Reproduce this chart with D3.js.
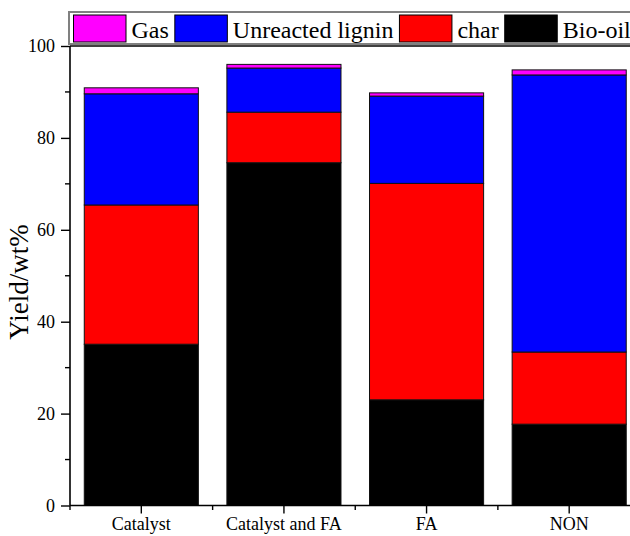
<!DOCTYPE html>
<html>
<head>
<meta charset="utf-8">
<script src="https://cdn.jsdelivr.net/npm/d3@7"></script>
<style>
  body { margin: 0; background: #fff; }
  svg { display: block; font-family: "Liberation Serif", "Times New Roman", serif; }
</style>
</head>
<body>
<div id="chart"></div>
<script>
var width = 630, height = 536;

// data (wt%)
var categories = ['Catalyst', 'Catalyst and FA', 'FA', 'NON'];
var bioOil    = [35.1, 74.6, 23.0, 17.7];
var charYield = [30.3, 11.0, 47.1, 15.7];
var unreacted = [24.2,  9.6, 19.0, 60.3];
var gas       = [ 1.3,  0.8,  0.7,  1.1];
var yTicks = [0, 20, 40, 60, 80, 100];
var yMinor = [10, 30, 50, 70, 90];

var keys = ['Bio-oil', 'char', 'Unreacted lignin', 'Gas'];
var colors = { 'Bio-oil': '#000000', 'char': '#ff0000', 'Unreacted lignin': '#0000ff', 'Gas': '#ff00ff' };
var legendOrder = ['Gas', 'Unreacted lignin', 'char', 'Bio-oil'];

var rows = categories.map(function (c, i) {
    return { cat: c, 'Bio-oil': bioOil[i], 'char': charYield[i], 'Unreacted lignin': unreacted[i], 'Gas': gas[i] };
});

var x0 = 70, xEnd = 640.5, yTop = 46, yBot = 505.5;

var svg = d3.select('#chart').append('svg')
    .attr('width', width)
    .attr('height', height);

var x = d3.scaleBand().domain(categories).range([x0, xEnd]).paddingInner(0.2).paddingOuter(0.1);
var y = d3.scaleLinear().domain([0, 100]).range([yBot, yTop]);

var series = d3.stack().keys(keys)(rows);

// bars
var gBars = svg.append('g');
series.forEach(function (s) {
    gBars.selectAll(null).data(s).enter().append('rect')
        .attr('x', function (d) { return x(d.data.cat); })
        .attr('y', function (d) { return y(d[1]); })
        .attr('width', x.bandwidth())
        .attr('height', function (d) { return y(d[0]) - y(d[1]); })
        .attr('fill', colors[s.key])
        .attr('stroke', '#111')
        .attr('stroke-width', 1);
});

// top frame line (runs off the right edge)
svg.append('line').attr('x1', x0).attr('x2', width).attr('y1', yTop).attr('y2', yTop)
    .attr('stroke', '#000').attr('stroke-width', 1.6);

// y axis
var yAxis = svg.append('g')
    .attr('transform', 'translate(' + x0 + ',0)')
    .call(d3.axisLeft(y).tickValues(yTicks).tickSize(9).tickPadding(6).tickFormat(d3.format('d')));
yAxis.select('.domain').attr('stroke-width', 1.6).attr('d', 'M0,' + yTop + 'V' + yBot);
yAxis.selectAll('.tick line').attr('stroke-width', 1.4);
yAxis.selectAll('.tick text').attr('font-size', 18).attr('font-family', '"Liberation Serif", serif').attr('fill', '#000');
yAxis.selectAll('.minor').data(yMinor).enter().append('line')
    .attr('x1', -5).attr('x2', 0)
    .attr('y1', function (d) { return y(d); }).attr('y2', function (d) { return y(d); })
    .attr('stroke', '#000').attr('stroke-width', 1.4);

// x axis
var xAxis = svg.append('g')
    .attr('transform', 'translate(0,' + yBot + ')')
    .call(d3.axisBottom(x).tickSize(8).tickPadding(4));
xAxis.select('.domain').attr('stroke-width', 1.6).attr('d', 'M' + x0 + ',0H' + width);
xAxis.selectAll('.tick line').attr('stroke-width', 1.4);
xAxis.selectAll('.tick text').attr('font-size', 18).attr('font-family', '"Liberation Serif", serif').attr('fill', '#000');
var bounds = categories.map(function (c) { return x(c) - x.step() * x.paddingInner() / 2; });
bounds[0] = x0;
xAxis.selectAll('.minor').data(bounds).enter().append('line')
    .attr('x1', function (d) { return d; }).attr('x2', function (d) { return d; })
    .attr('y1', 0).attr('y2', 4.5)
    .attr('stroke', '#000').attr('stroke-width', 1.4);

// y label
svg.append('text')
    .attr('transform', 'translate(28,282) rotate(-90)')
    .attr('text-anchor', 'middle')
    .attr('font-size', 27)
    .text('Yield/wt%');

// legend
var leg = svg.append('g');
leg.append('rect')
    .attr('x', 69).attr('y', 12).attr('width', 600).attr('height', 32)
    .attr('fill', '#fff').attr('stroke', '#808080').attr('stroke-width', 2);
var lx = 73.5;
legendOrder.forEach(function (k) {
    leg.append('rect')
        .attr('x', lx).attr('y', 15).attr('width', 52.5).attr('height', 27)
        .attr('fill', colors[k]).attr('stroke', '#000').attr('stroke-width', 1);
    var t = leg.append('text')
        .attr('x', lx + 58).attr('y', 37.5)
        .attr('font-size', 24)
        .text(k);
    lx = lx + 58 + t.node().getComputedTextLength() + 6;
});
</script>
</body>
</html>
